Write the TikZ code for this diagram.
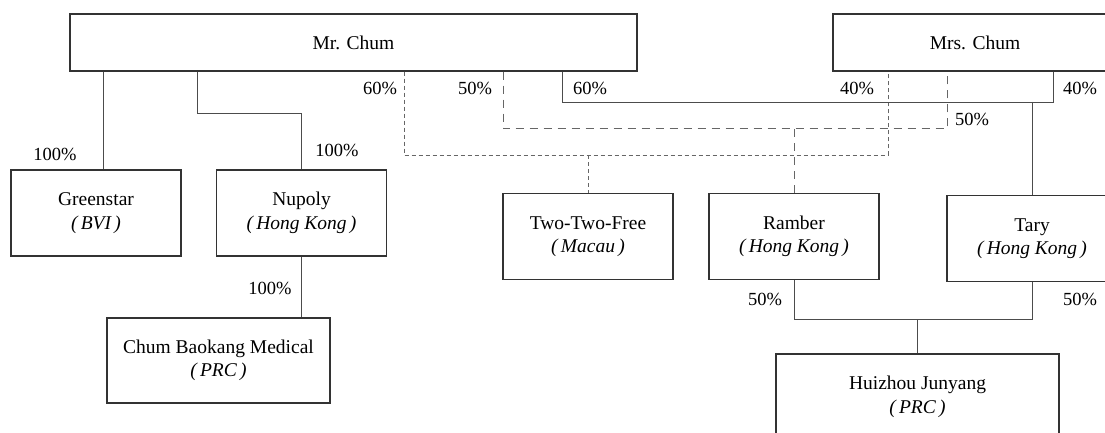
\documentclass[tikz,border=0pt]{standalone}
\usepackage{fontspec}
\setmainfont{Liberation Serif}
\usetikzlibrary{positioning}

\begin{document}
\begin{tikzpicture}[x=1pt,y=-1pt,node distance=200pt,on grid,
   firm/.style={draw=black!80,line width=1.1pt,inner sep=0pt,align=center,
                minimum width=170pt,minimum height=86pt,
                font=\fontsize{19.5}{23.5}\selectfont},
   pct/.style={font=\fontsize{18.5}{20}\selectfont,inner sep=0pt},
   own/.style={draw=black!70,line width=0.9pt},
   share/.style={draw=black!60,line width=0.9pt,dash pattern=on 4pt off 3pt},
   joint/.style={draw=black!60,line width=1pt,dash pattern=on 8pt off 6pt}]
   \useasboundingbox (0,0) rectangle (1105,433);
   % owners
   \node[firm,minimum width=567pt,minimum height=57pt] (mrchum) at (353.5,42.5) {Mr. Chum};
   \node[firm,minimum width=284pt,minimum height=57pt] (mrschum) [right=621.5pt of mrchum] {Mrs. Chum};
   % companies
   \node[firm] (greenstar) at (96,213) {Greenstar\\\textit{(\,BVI\,)}};
   \node[firm] (nupoly) [right=205.5pt of greenstar] {Nupoly\\\textit{(\,Hong Kong\,)}};
   \node[firm,minimum width=223pt,minimum height=85pt] (chumbk) [below left=147.5pt and 83pt of nupoly] {Chum Baokang Medical\\\textit{(\,PRC\,)}};
   \node[firm] (twotwo) at (588,236.5) {Two-Two-Free\\\textit{(\,Macau\,)}};
   \node[firm] (ramber) [right=206pt of twotwo] {Ramber\\\textit{(\,Hong Kong\,)}};
   \node[firm] (tary) at (1032,238.5) {Tary\\\textit{(\,Hong Kong\,)}};
   \node[firm,minimum width=283pt] (huizhou) at (917.5,397) {Huizhou Junyang\\\textit{(\,PRC\,)}};
   % bends
   \coordinate (gsleg) at (103,120);
   \coordinate (nuknee) at (197,113);
   \coordinate (ttl) at (404,155);
   \coordinate (ttr) at (888,155);
   \coordinate (rbl) at (503,129);
   \coordinate (rbr) at (947,129);
   \coordinate (tyl) at (562,102);
   \coordinate (tyr) at (1053,102);
   \coordinate (hjbar) at (917.5,319);
   % Mr. Chum only
   \draw[own] (gsleg |- mrchum.south) -- (gsleg |- greenstar.north);
   \draw[own] (nuknee |- mrchum.south) -- (nuknee) -- (nuknee -| nupoly.north) -- (nupoly.north);
   \draw[own] (nupoly.south) -- (chumbk.north -| nupoly.south);
   % joint holdings
   \draw[share] (ttl |- mrchum.south) -- (ttl) -- (ttr) -- (ttr |- mrschum.south);
   \draw[share] (twotwo.north |- ttl) -- (twotwo.north);
   \draw[joint] (rbl |- mrchum.south) -- (rbl) -- (rbr) -- (rbr |- mrschum.south);
   \draw[joint] (ramber.north |- rbl) -- (ramber.north);
   \draw[own] (tyl |- mrchum.south) -- (tyl) -- (tyr) -- (tyr |- mrschum.south);
   \draw[own] (tary.north |- tyl) -- (tary.north);
   \draw[own] (ramber.south) |- (tary.south |- hjbar) -- (tary.south);
   \draw[own] (huizhou.north |- hjbar) -- (huizhou.north);
   % percentages
   \node[pct] (p1) at (55,154) {100\%};
   \node[pct] (p2) at (337,150) {100\%};
   \node[pct] (p3) at (380,88) {60\%};
   \node[pct] (p4) at (475,88) {50\%};
   \node[pct] (p5) at (590,88) {60\%};
   \node[pct] (p6) at (857,88) {40\%};
   \node[pct] (p7) at (1080,88) {40\%};
   \node[pct] (p8) at (972,119) {50\%};
   \node[pct] (p9) at (270,288) {100\%};
   \node[pct] (p10) at (765,299) {50\%};
   \node[pct] (p11) at (1080,299) {50\%};
\end{tikzpicture}
\end{document}
